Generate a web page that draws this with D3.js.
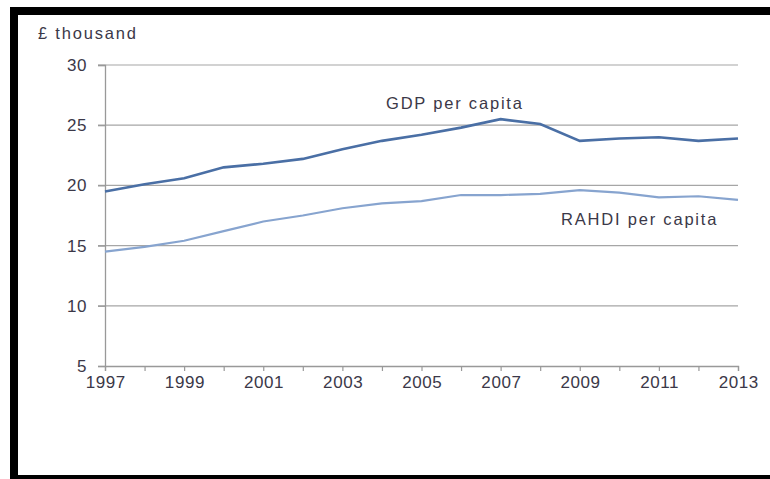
<!DOCTYPE html>
<html><head><meta charset="utf-8">
<script src="https://cdn.jsdelivr.net/npm/d3@7"></script>
<style>html,body{margin:0;padding:0;background:#fff;}svg{display:block;}</style>
</head><body>
<svg id="c" width="770" height="479"></svg>
<script>
const years = [1997,1998,1999,2000,2001,2002,2003,2004,2005,2006,2007,2008,2009,2010,2011,2012,2013];
const gdp   = [19.5,20.1,20.6,21.5,21.8,22.2,23.0,23.7,24.2,24.8,25.5,25.1,23.7,23.9,24.0,23.7,23.9];
const rahdi = [14.5,14.9,15.4,16.2,17.0,17.5,18.1,18.5,18.7,19.2,19.2,19.3,19.6,19.4,19.0,19.1,18.8];
const yTicks = [5,10,15,20,25,30];
const xTickLabels = [1997,1999,2001,2003,2005,2007,2009,2011,2013];

const svg = d3.select("#c");
const textCol = "#3b3848";
const font = "Arial, 'Liberation Sans', sans-serif";

// frame
svg.append("rect").attr("x",10).attr("y",7).attr("width",760).attr("height",8).attr("fill","#000");
svg.append("rect").attr("x",10).attr("y",7).attr("width",8).attr("height",472).attr("fill","#000");
svg.append("rect").attr("x",10).attr("y",475).attr("width",760).attr("height",4).attr("fill","#000");

const x = d3.scaleLinear().domain([1997,2013]).range([105,738]);
const y = d3.scaleLinear().domain([5,30]).range([366,65]);

// gridlines
svg.append("g").selectAll("line").data(yTicks.filter(d=>d>5)).join("line")
  .attr("x1",98).attr("x2",738).attr("y1",d=>y(d)).attr("y2",d=>y(d))
  .attr("stroke","#a6a6a6").attr("stroke-width",1.2);

// y axis
const yAxis = svg.append("g").attr("transform","translate(105,0)")
  .call(d3.axisLeft(y).tickValues(yTicks).tickSize(7).tickPadding(11));
yAxis.select(".domain").attr("stroke","#999").attr("stroke-width",1.3);
yAxis.selectAll(".tick line").attr("stroke","#999").attr("stroke-width",1.2);
yAxis.selectAll("text").attr("fill",textCol).style("font-family",font)
  .style("font-size","17px").style("letter-spacing","0.6px");

// x axis
const xAxis = svg.append("g").attr("transform","translate(0,366)")
  .call(d3.axisBottom(x).tickValues(years).tickSize(5).tickFormat(d=>xTickLabels.includes(d)?d:""));
xAxis.select(".domain").attr("stroke","#999").attr("stroke-width",1.3);
xAxis.selectAll(".tick line").attr("stroke","#999").attr("stroke-width",1.2);
xAxis.selectAll("text").attr("fill",textCol).attr("y",10).attr("dx","0.3px").style("font-family",font)
  .style("font-size","17px").style("letter-spacing","0.6px");

const line = d3.line().x((d,i)=>x(years[i])).y(d=>y(d));
svg.append("path").datum(rahdi).attr("d",line).attr("fill","none")
  .attr("stroke","#87a4cf").attr("stroke-width",2.2);
svg.append("path").datum(gdp).attr("d",line).attr("fill","none")
  .attr("stroke","#4a6fa5").attr("stroke-width",2.6);

// labels
const lab = (tx,ty,t)=>svg.append("text").attr("x",tx).attr("y",ty).text(t)
  .attr("fill",textCol).style("font-family",font).style("font-size","16.5px").style("letter-spacing","1.8px");
lab(38,39,"£ thousand");
lab(386,109,"GDP per capita");
lab(561,225,"RAHDI per capita");
</script>
</body></html>
